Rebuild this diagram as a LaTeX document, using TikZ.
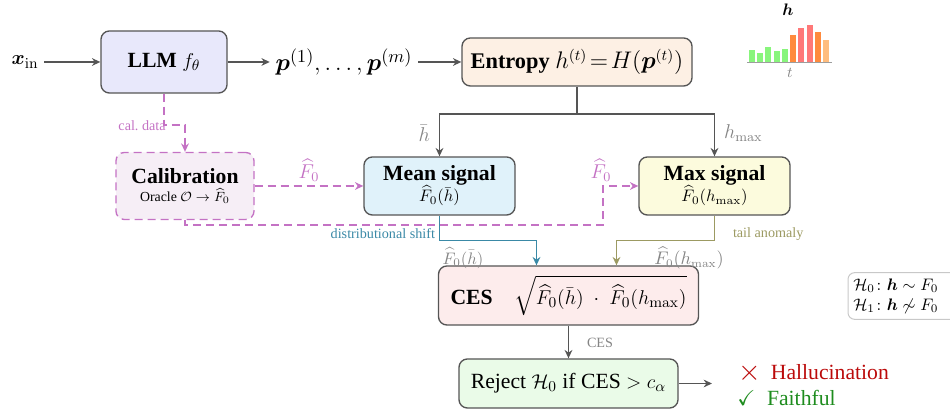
\documentclass[tikz,border=0pt]{standalone}
\usepackage{amsmath,amssymb,bm,graphicx}
\usepackage[no-math]{fontspec}
\setmainfont{Liberation Serif}
\usetikzlibrary{arrows.meta,calc}

\definecolor{edgegray}{HTML}{555555}
\definecolor{labgray}{HTML}{858585}
\definecolor{llmfill}{HTML}{E8E8FB}
\definecolor{entfill}{HTML}{FDF0E4}
\definecolor{meanfill}{HTML}{E0F2FA}
\definecolor{maxfill}{HTML}{FCFBDD}
\definecolor{calfill}{HTML}{F6EEF6}
\definecolor{calline}{HTML}{C472C4}
\definecolor{cesfill}{HTML}{FDECEC}
\definecolor{rejfill}{HTML}{EAFBE8}
\definecolor{shiftcol}{HTML}{3A89A6}
\definecolor{tailcol}{HTML}{9C9A62}
\definecolor{hypgray}{HTML}{C8C8C8}
\definecolor{halred}{HTML}{BB0A0A}
\definecolor{faithgreen}{HTML}{1E8C1E}
\definecolor{barg}{HTML}{88F57C}
\definecolor{baro}{HTML}{FF8A3D}
\definecolor{barr}{HTML}{FF7878}
\definecolor{barl}{HTML}{FFBD7E}

\newcommand\titlefont{\fontsize{13}{15}\selectfont}
\newcommand\subfont{\fontsize{10}{12}\selectfont}
\newcommand\smallfont{\fontsize{8.5}{10}\selectfont}
\newcommand\bigmathfont{\fontsize{13}{15}\selectfont}

\begin{document}
\begin{tikzpicture}[x=0.6pt,y=-0.6pt,
  box/.style={draw=edgegray, line width=0.8pt, rounded corners=5pt,
    align=center, inner sep=2pt},
  tip/.style={-{Stealth[length=5pt,width=4.6pt,inset=1.6pt]}},
  arr/.style={draw=edgegray, line width=0.9pt, tip},
  link/.style={draw=edgegray, line width=0.9pt},
  calarr/.style={draw=calline, line width=0.9pt, dash pattern=on 4.8pt off 3pt, tip},
  shiftarr/.style={draw=shiftcol, line width=0.9pt, tip},
  tailarr/.style={draw=tailcol, line width=0.9pt, tip},
  glabel/.style={text=labgray, inner sep=1pt, font=\subfont},
]
\useasboundingbox (0,0) rectangle (950,410);

% input, model and per-token distributions
\node (xin) at (25,62) {\titlefont$\bm x_{\mathrm{in}}$};
\node[box, fill=llmfill, minimum width=75.6pt, minimum height=37.2pt] (llm) at (164,62)
  {\titlefont\textbf{LLM} $f_\theta$};
\node (probs) at (344,62) {\fontsize{15}{17}\selectfont$\bm p^{(1)},\dots,\bm p^{(m)}$};
\node[box, fill=entfill, minimum width=138pt, minimum height=28.8pt] (ent) at (577,62)
  {\fontsize{13.4}{15}\selectfont\textbf{Entropy} $h^{(t)}\!=\!H(\bm p^{(t)})$};

% the two summary signals
\node[box, fill=meanfill, minimum width=90.6pt, minimum height=34.8pt] (mean) at (439.5,186)
  {\titlefont\textbf{Mean signal}\\[-1pt]\subfont$\widehat{F}_0(\bar h)$};
\node[box, fill=maxfill, minimum width=90.6pt, minimum height=34.8pt] (max) at (714.5,186)
  {\titlefont\textbf{Max signal}\\[-1pt]\subfont$\widehat{F}_0(h_{\max})$};

% calibration
\node[box, draw=calline, dash pattern=on 4.8pt off 3pt, fill=calfill,
  minimum width=82.8pt, minimum height=40.2pt] (cal) at (185,186)
  {\titlefont\textbf{Calibration}\\[-1pt]{\fontsize{8.3}{10}\selectfont Oracle $\mathcal{O}\to\widehat{F}_0$}};

% combined score and decision
\node[box, fill=cesfill, minimum width=156pt, minimum height=35.4pt] (ces) at (568.5,295.5)
  {\bigmathfont\textbf{CES}\quad$\sqrt{\widehat{F}_0(\bar h)\;\cdot\;\widehat{F}_0(h_{\max})}$};
\node[box, fill=rejfill, minimum width=131.4pt, minimum height=29.4pt] (rej) at (568.5,383.5)
  {\bigmathfont Reject $\mathcal{H}_0$ if CES $>c_\alpha$};
\coordinate (out) at (712,383.5);
\node[anchor=base west, inner sep=0pt, text=halred] (hal) at (738,380)
  {\bigmathfont\raisebox{-0.5pt}{\scalebox{1.45}{$\times$}}\hspace{6pt}Hallucination};
\node[anchor=base west, inner sep=0pt, text=faithgreen] (faith) at (737,406)
  {\bigmathfont$\checkmark$\hspace{7pt}Faithful};

% hypotheses; the frame is open on the right and runs past the margin
\node[anchor=west, align=left, minimum height=27.6pt, inner sep=3pt] (hyp) at (848,296)
  {\fontsize{10}{10.8}\selectfont$\mathcal{H}_0\colon \bm h\sim F_0$\\
   \fontsize{10}{10.8}\selectfont$\mathcal{H}_1\colon \bm h\not\sim F_0$};
\draw[hypgray, line width=0.6pt, rounded corners=4pt]
  ($(hyp.north west)+(150,0)$) -- (hyp.north west) -- (hyp.south west) -- ($(hyp.south west)+(150,0)$);

% entropy profile sketch
\foreach \bx/\bh/\bc in {749/12.3/barg, 757/9.3/barg, 765/15.3/barg, 774/11.3/barg,
    782/13.3/barg, 790/27/baro, 798/34/barr, 807/37/barr, 815/30/baro, 823/22/barl}
  \fill[\bc] (\bx,62) rectangle ({\bx+6},{62-\bh});
\draw[labgray!80, line width=0.6pt] (747,62.3) -- (832,62.3);
\node (hlab) at (788,10) {\fontsize{10}{12}\selectfont$\bm h$};
\node[text=labgray] (tlab) at (790,73) {\fontsize{9}{10}\selectfont$t$};

% main flow
\draw[arr] (xin) -- (llm);
\draw[arr] (llm) -- (probs);
\draw[arr] (probs) -- (ent);
\coordinate (split) at (577,114);
\draw[link] (ent) -- (split);
\draw[arr] (split) -| (mean);
\draw[arr] (split) -| (max);
\node[glabel, anchor=east, font=\fontsize{12}{14}\selectfont] at (432,133) {$\bar h$};
\node[glabel, anchor=west, font=\fontsize{12}{14}\selectfont] at (722,133) {$h_{\max}$};

% calibration links
\draw[calarr] (llm.south) -- (164,125) -| (cal.north);
\node[anchor=east, inner sep=0pt, text=calline] (caldata) at (166,126) {\smallfont cal.\ data};
\draw[calarr] (cal) -- (mean);
\node[inner sep=1pt, text=calline] at (309,170) {\fontsize{12}{14}\selectfont$\widehat{F}_0$};
\coordinate (calbend) at (603,225);
\draw[calarr] (cal.south) |- (calbend) |- (max.west);
\node[inner sep=1pt, text=calline] at (601,170) {\fontsize{12}{14}\selectfont$\widehat{F}_0$};

% signals into the score
\draw[shiftarr] (mean.south) -- ++(0,25) -| ($(ces.north)+(-32,0)$);
\node[anchor=east, inner sep=1pt, text=shiftcol] at (437,234) {\smallfont distributional shift};
\draw[tailarr] (max.south) -- ++(0,25) -| ($(ces.north)+(48,0)$);
\node[anchor=west, inner sep=1pt, text=tailcol] at (731,234) {\smallfont tail anomaly};
\node[glabel] at (463,258) {$\widehat{F}_0(\bar h)$};
\node[glabel, font=\fontsize{10.5}{12}\selectfont] at (689,258) {$\widehat{F}_0(h_{\max})$};

% decision
\draw[arr] (ces) -- (rej);
\node[anchor=west, inner sep=1pt, text=labgray] at (585,343) {\smallfont CES};
\draw[arr] (rej.east) -- (out);
\end{tikzpicture}
\end{document}
